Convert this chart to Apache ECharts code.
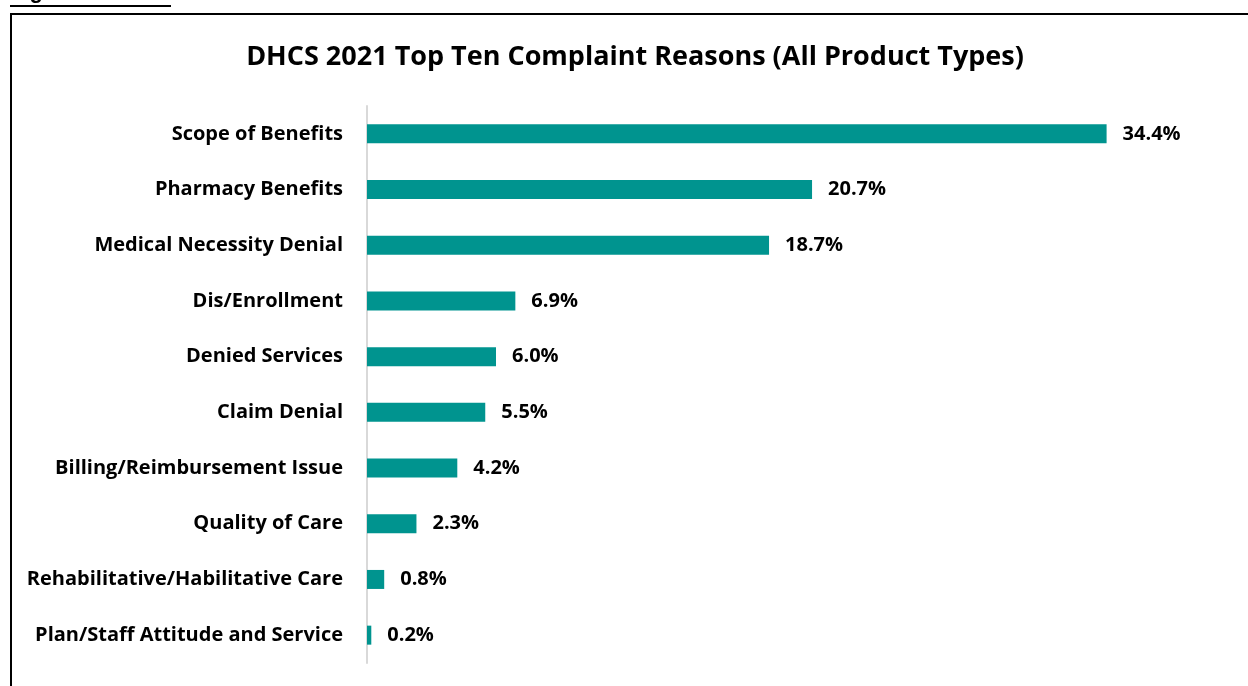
<!DOCTYPE html>
<html>
<head>
<meta charset="utf-8">
<script src="https://cdn.jsdelivr.net/npm/echarts@6/dist/echarts.min.js"></script>
<style>
  html, body { margin: 0; padding: 0; background: #fff; }
  #chart { width: 1248px; height: 686px; }
</style>
</head>
<body>
<div id="chart"></div>
<script>
// Complaint reasons, listed top to bottom
const reasons = [
  'Scope of Benefits',
  'Pharmacy Benefits',
  'Medical Necessity Denial',
  'Dis/Enrollment',
  'Denied Services',
  'Claim Denial',
  'Billing/Reimbursement Issue',
  'Quality of Care',
  'Rehabilitative/Habilitative Care',
  'Plan/Staff Attitude and Service'
];
// Share of all complaints, percent
const shares = [34.4, 20.7, 18.7, 6.9, 6.0, 5.5, 4.2, 2.3, 0.8, 0.2];

const titleText = 'DHCS 2021 Top Ten Complaint Reasons (All Product Types)';
const figureText = 'Figure 3.3';

const FONT = '"Open Sans", sans-serif';
const chart = echarts.init(document.getElementById('chart'));

chart.setOption({
  animation: false,
  backgroundColor: '#fff',
  title: {
    text: titleText,
    left: 630,
    textAlign: 'center',
    top: 39,
    textStyle: { fontFamily: FONT, fontWeight: 'bold', fontSize: 27, color: '#000' }
  },
  graphic: [
    // frame around the chart
    {
      type: 'rect',
      shape: { x: 11, y: 14, width: 1250, height: 690 },
      style: { fill: 'none', stroke: '#000', lineWidth: 2 }
    },
    // figure caption, clipped at the top edge
    {
      type: 'text',
      x: 10,
      y: -19,
      style: {
        text: figureText,
        fontFamily: '"Liberation Sans", Arial, sans-serif',
        fontWeight: 'bold',
        fontSize: 22,
        fill: '#000'
      }
    },
    {
      type: 'rect',
      shape: { x: 10, y: 5, width: 161, height: 2 },
      style: { fill: '#000' }
    }
  ],
  grid: { left: 367, top: 106, width: 860, bottom: 23, containLabel: false },
  xAxis: {
    type: 'value',
    min: 0,
    max: 40,
    show: false
  },
  yAxis: {
    type: 'category',
    data: reasons,
    inverse: true,
    axisLine: { show: true, lineStyle: { color: '#d9d9d9', width: 2 } },
    axisTick: { show: false },
    axisLabel: {
      margin: 24,
      padding: [4, 0, 0, 0],
      fontFamily: FONT,
      fontWeight: 'bold',
      fontSize: 20,
      color: '#000'
    }
  },
  series: [{
    type: 'bar',
    data: shares,
    barWidth: 19,
    itemStyle: { color: '#00948f' },
    label: {
      show: true,
      position: 'right',
      distance: 16,
      padding: [4, 0, 0, 0],
      formatter: p => p.value.toFixed(1) + '%',
      fontFamily: FONT,
      fontWeight: 'bold',
      fontSize: 20,
      color: '#000'
    }
  }]
});
</script>
</body>
</html>
